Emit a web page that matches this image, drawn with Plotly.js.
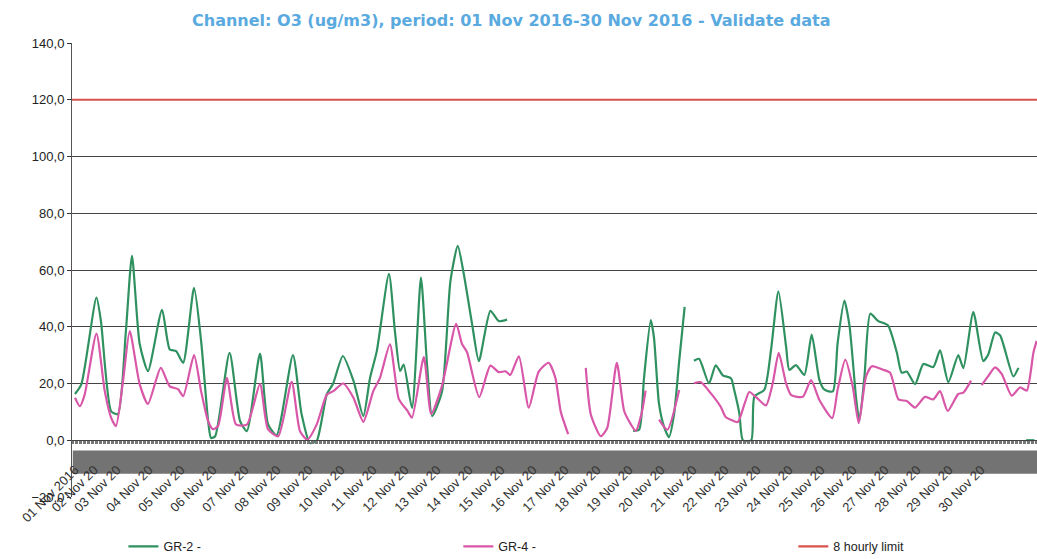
<!DOCTYPE html>
<html>
<head>
<meta charset="utf-8">
<script src="https://cdn.plot.ly/plotly-3.0.1.min.js"></script>
<style>html,body{margin:0;padding:0;background:#fff;}#chart{width:1037px;height:559px;}</style>
</head>
<body>
<div id="chart"></div>
<script>
// Day of November (1.0 = 01 Nov 00:00) and O3 values (ug/m3), null = missing data
const gr2Day = [1.00,1.20,1.67,1.81,2.13,2.34,2.59,2.78,3.02,3.28,3.72,3.96,4.16,4.38,4.72,4.94,5.16,5.25,5.38,5.83,6.16,6.37,6.78,7.03,7.30,7.81,8.08,8.34,8.55,8.87,9.06,9.37,9.70,10.01,10.22,10.43,10.81,11.00,11.16,11.27,11.53,11.81,12.00,12.16,12.47,12.73,12.96,13.15,13.41,13.62,13.98,14.24,14.50,15.00,18.44,18.63,18.78,18.99,19.09,19.25,19.41,19.56,19.72,19.88,20.05,20.20,20.34,20.50,20.81,21.02,21.24,21.50,21.60,21.76,21.87,22.13,22.23,22.54,22.75,22.98,23.22,23.32,23.53,23.79,24.02,24.26,24.42,24.68,24.83,25.04,25.20,25.41,25.51,25.67,25.85,26.10,26.40,26.68,26.83,26.99,27.25,27.51,27.82,28.03,28.29,28.60,28.76,29.07,29.38,29.54,29.75,29.91,30.32,30.48,30.60,30.72,30.98];
const gr2Val = [16.3,19.8,50.3,42.0,10.2,9.2,38.5,65.0,34.0,24.4,46.0,32.0,31.4,27.3,53.7,35.0,6.7,0.8,1.4,30.8,6.7,3.2,30.5,5.7,1.8,30.0,9.2,-1.0,-0.3,16.3,19.8,29.7,21.0,8.5,22.0,31.4,58.6,38.0,24.4,26.7,11.4,57.3,26.7,8.5,17.3,56.0,68.5,58.5,40.8,27.9,45.6,42.0,42.5,null,3.3,3.8,22.0,42.3,36.3,12.7,4.6,1.1,9.2,28.0,47.0,null,28.0,28.7,20.0,26.4,22.9,21.8,17.6,9.4,0.0,0.0,15.4,17.8,31.9,52.5,33.0,24.8,26.5,23.0,37.2,21.3,17.8,17.2,34.3,49.2,40.4,14.5,6.8,22.7,44.6,42.0,40.5,30.9,23.8,24.2,19.8,26.9,25.8,31.7,20.5,30.0,25.4,45.2,27.9,30.3,38.0,36.9,22.5,25.5,null,0.0,0.0];

const gr4Day = [1.00,1.15,1.30,1.67,1.93,2.13,2.28,2.50,2.71,3.02,3.28,3.68,3.96,4.22,4.38,4.72,4.94,5.16,5.31,5.47,5.75,6.03,6.37,6.78,7.03,7.35,7.77,8.03,8.26,8.55,8.87,9.07,9.38,9.70,10.01,10.32,10.53,10.84,11.12,11.38,11.53,11.90,12.13,12.47,12.91,13.09,13.25,13.63,13.98,14.24,14.45,14.60,14.87,15.18,15.49,15.80,16.01,16.18,16.41,16.60,16.96,17.12,17.43,17.63,17.93,18.16,18.37,18.52,18.70,18.83,18.95,19.25,19.51,19.88,20.10,20.34,20.55,20.87,21.18,21.33,21.50,21.71,21.92,22.07,22.28,22.59,22.80,22.99,23.22,23.38,23.74,24.00,24.26,24.66,24.83,25.07,25.30,25.49,25.72,25.90,26.21,26.47,26.73,26.99,27.25,27.56,27.82,28.03,28.27,28.60,28.76,29.00,29.15,29.33,29.54,29.75,29.96,30.27,30.53,30.74,30.95,31.05];
const gr4Val = [15.0,12.0,16.0,37.6,17.3,7.9,5.0,20.8,38.5,19.8,12.8,25.5,19.0,18.0,15.5,30.0,17.3,6.7,3.9,5.0,22.0,5.6,5.5,19.8,3.9,1.4,20.6,3.2,0.2,5.5,16.1,17.3,20.0,15.0,6.5,17.3,22.0,33.8,14.5,10.5,8.0,29.3,9.2,19.3,41.0,34.0,31.0,15.2,26.3,24.0,24.3,23.0,29.6,11.5,24.2,27.3,22.0,10.0,2.2,null,25.5,9.0,1.4,4.3,27.3,10.3,5.6,3.3,9.2,17.5,null,7.3,3.7,17.7,null,20.1,20.5,16.5,11.7,8.2,7.2,6.4,12.8,17.0,15.2,12.3,20.0,30.8,20.0,15.9,15.3,21.2,14.2,7.8,17.8,28.4,19.0,6.0,22.5,26.1,25.0,23.8,14.4,13.8,11.5,15.3,14.4,17.3,10.3,16.3,16.8,21.0,null,19.4,22.7,25.7,23.3,15.7,18.6,17.5,31.0,35.0];

const limitDay = [0.9, 31.1];
const limitVal = [120, 120];

const dayLabels = ['01 Nov 2016','02 Nov 20','03 Nov 20','04 Nov 20','05 Nov 20','06 Nov 20','07 Nov 20','08 Nov 20','09 Nov 20','10 Nov 20','11 Nov 20','12 Nov 20','13 Nov 20','14 Nov 20','15 Nov 20','16 Nov 20','17 Nov 20','18 Nov 20','19 Nov 20','20 Nov 20','21 Nov 20','22 Nov 20','23 Nov 20','24 Nov 20','25 Nov 20','26 Nov 20','27 Nov 20','28 Nov 20','29 Nov 20','30 Nov 20'];

// label anchor positions along the axis
const tickPos = dayLabels.map((_, i) => i === 0 ? 1.0 : (i === 1 ? 1.6 : (i + 1) - 0.69));

const traces = [
  {x: gr2Day, y: gr2Val, name: 'GR-2 -', mode: 'lines', connectgaps: false, legend: 'legend',
   line: {color: '#2f9160', width: 2.2, shape: 'spline', smoothing: 0.6}},
  {x: gr4Day, y: gr4Val, name: 'GR-4 -', mode: 'lines', connectgaps: false, legend: 'legend2',
   line: {color: '#d857a8', width: 2.2, shape: 'spline', smoothing: 0.6}},
  {x: limitDay, y: limitVal, name: '8 hourly limit', mode: 'lines', legend: 'legend3',
   line: {color: '#d9534c', width: 2.2}}
];

const legendBase = {orientation: 'h', xref: 'container', yref: 'container', y: 0.022,
  xanchor: 'left', yanchor: 'middle', font: {size: 12.5, color: '#222'}, bgcolor: 'rgba(0,0,0,0)'};

const layout = {
  width: 1037, height: 559,
  paper_bgcolor: '#ffffff', plot_bgcolor: '#ffffff',
  margin: {l: 72, r: 0, t: 43, b: 62},
  separators: ',.',
  font: {family: 'Liberation Sans, Arial, sans-serif', color: '#222'},
  title: {text: 'Channel: O3 (ug/m3), period: 01 Nov 2016-30 Nov 2016 - Validate data',
          font: {family: 'DejaVu Sans, Verdana, sans-serif', size: 16, color: '#5aaae0', weight: 'bold'},
          xref: 'container', x: 0.493, xanchor: 'center', yref: 'container', y: 0.964, yanchor: 'middle'},
  xaxis: {
    range: [0.906, 31.06], anchor: 'free', position: 0.125,
    tickmode: 'array', tickvals: tickPos, ticktext: dayLabels, tickangle: -45,
    ticks: 'outside', ticklen: 16, tickcolor: 'rgba(0,0,0,0)',
    tickfont: {size: 13, color: '#333'},
    showgrid: false, zeroline: false, showline: true, linecolor: '#444', linewidth: 1,
    minor: {tickmode: 'linear', tick0: 1, dtick: 1/24, ticks: 'outside', ticklen: 3, tickcolor: '#777', showgrid: false}
  },
  yaxis: {
    range: [-20, 140], tickmode: 'linear', tick0: -20, dtick: 20, tickformat: '.1f',
    ticks: 'outside', ticklen: 4, tickcolor: '#333',
    tickfont: {size: 13, color: '#222'},
    showgrid: true, gridcolor: '#444', gridwidth: 1, zeroline: false,
    showline: true, linecolor: '#555', linewidth: 1
  },
  shapes: [
    {type: 'rect', xref: 'x', yref: 'y', x0: 0.93, x1: 31.06, y0: -3.6, y1: -11.8,
     fillcolor: '#5a5a5a', opacity: 0.85, line: {width: 0}, layer: 'below'}
  ],
  showlegend: true,
  legend: Object.assign({}, legendBase, {x: 0.119}),
  legend2: Object.assign({}, legendBase, {x: 0.442}),
  legend3: Object.assign({}, legendBase, {x: 0.765})
};

Plotly.newPlot('chart', traces, layout, {displayModeBar: false, staticPlot: true});
</script>
</body>
</html>
